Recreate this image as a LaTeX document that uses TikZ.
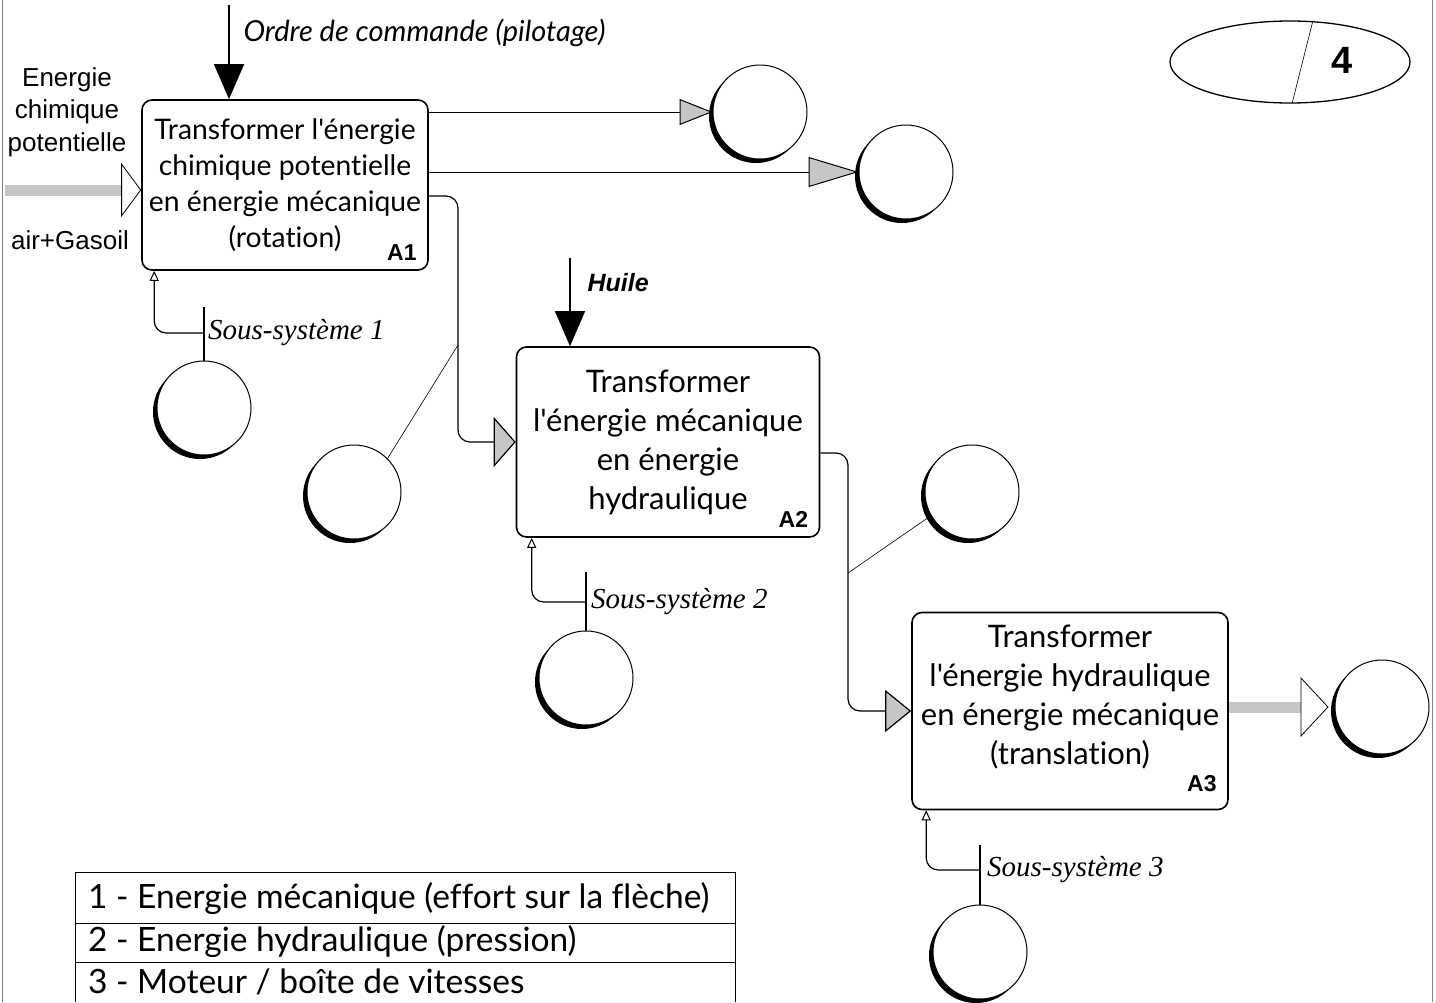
\documentclass[tikz,border=0pt]{standalone}
\usepackage{fontspec}
\setmainfont{Lato}[Ligatures={TeXOff,NoCommon}]
\newfontfamily\arialf{Liberation Sans}
\newfontfamily\romanf{Liberation Serif}
\usetikzlibrary{arrows.meta}
\usetikzlibrary{shapes.geometric}
\usetikzlibrary{shadows}

\begin{document}
\begin{tikzpicture}[x=1pt,y=-1pt]
  \tikzset{boite/.style = {draw, line width=1.6pt, rounded corners=10pt, inner sep=0pt, align=center}}
  \tikzset{rond/.style = {circle, draw, line width=1pt, fill=white, minimum size=94pt, inner sep=0pt,
      drop shadow={shadow xshift=-4pt, shadow yshift=-4pt, opacity=1, fill=black}}}
  \tikzset{lien/.style = {line width=1.2pt, rounded corners=12pt}}
  \tikzset{fin/.style = {line width=0.6pt}}
  \tikzset{sortie/.style = {line width=1pt}}
  \tikzset{ctrl/.style = {line width=1.2pt, -{Triangle[length=35pt,width=30pt]}}}
  \tikzset{barre/.style = {line width=11pt, draw=gray!45}}
  \tikzset{meca/.style = {line width=1.2pt, rounded corners=12pt, -{Triangle[open,length=10pt,width=9pt,line width=1pt]}}}
  \tikzset{num/.style = {font=\arialf\bfseries\fontsize{23}{26}\selectfont, inner sep=0pt}}
  \tikzset{ssys/.style = {font=\romanf\itshape\fontsize{29}{33}\selectfont, anchor=west, inner sep=0pt}}
  \tikzset{legende/.style = {font=\fontsize{33.5}{36}\selectfont, anchor=west, inner sep=0pt}}

  \useasboundingbox (0,0) rectangle (1436,1002);
  \draw[gray, line width=0.8pt] (2,0) -- (2,1002);
  \draw[gray, line width=0.8pt] (1432,0) -- (1432,1002);

  % les trois fonctions
  \node[boite, minimum width=286pt, minimum height=170pt, font=\fontsize{28.3}{36}\selectfont] (A1) at (285,185)
    {Transformer l'énergie\\chimique potentielle\\en énergie mécanique\\(rotation)};
  \node[boite, minimum width=303pt, minimum height=190pt, font=\fontsize{31}{39}\selectfont] (A2) at (668,442)
    {Transformer\\l'énergie mécanique\\en énergie\\hydraulique};
  \node[boite, minimum width=316pt, minimum height=197pt, font=\fontsize{31}{39}\selectfont] (A3) at (1070,711)
    {Transformer\\l'énergie hydraulique\\en énergie mécanique\\(translation)\\[-6pt]\mbox{}};
  \node[num, anchor=south east] (nA1) at ([xshift=-12pt,yshift=10pt]A1.south east) {A1};
  \node[num, anchor=south east] (nA2) at ([xshift=-12pt,yshift=10pt]A2.south east) {A2};
  \node[num, anchor=south east] (nA3) at ([xshift=-12pt,yshift=18pt]A3.south east) {A3};

  \foreach \nom/\x/\y in {C1/760/112, C2/906/172, C3/204/408, C4/354/492,
                          C5/586/678, C6/972/492, C7/1382/707, C8/980/952}
    \node[rond] (\nom) at (\x,\y) {};

  % entrees
  \coordinate (in) at (5,190);
  \coordinate (o) at (229,5);
  \coordinate (h) at (570,258);
  \node[font=\arialf\fontsize{26}{32.5}\selectfont, align=center] (ecp) at (67,112) {Energie\\chimique\\potentielle};
  \node[font=\arialf\fontsize{26}{30}\selectfont] (gas) at (70,240) {air+Gasoil};
  \node[font=\itshape\fontsize{29}{33}\selectfont, anchor=west] (ordre) at (240,33) {Ordre de commande (pilotage)};
  \node[font=\arialf\bfseries\itshape\fontsize{25}{30}\selectfont, anchor=west] (huile) at (584,283) {Huile};

  \draw[barre, -{Triangle[open,length=20pt,width=54pt,line width=0.8pt,color=black]}] (in) -- (in -| A1.west);
  \draw[ctrl] (o) -- (o |- A1.north);
  \draw[ctrl] (h) -- (h |- A2.north);

  % sorties
  \draw[sortie, -{Triangle[length=33pt,width=26pt,fill=gray!45]}] (A1.east |- C1.west) -- (C1.west);
  \draw[sortie, -{Triangle[length=50pt,width=30pt,fill=gray!45]}] (A1.east |- C2.west) -- (C2.west);
  \draw[barre, -{Triangle[open,length=28pt,width=60pt,line width=0.8pt,color=black]}] (A3.east |- C7.west) -- ([xshift=-6pt]C7.west);

  \coordinate (k1) at (458,345);
  \coordinate (k2) at (848,573);
  \draw[lien, -{Triangle[length=22pt,width=50pt,fill=gray!45]}] ([yshift=-11pt]A1.east) -| (k1) |- (A2.west);
  \draw[lien, -{Triangle[length=26pt,width=42pt,fill=gray!45]}] ([yshift=-11pt]A2.east) -| (k2) |- (A3.west);
  \draw[fin] (C4.north east) -- (k1);
  \draw[fin] (C6.210) -- (k2);

  % supports
  \coordinate (t1) at (204,307);
  \coordinate (m1) at (204,333);
  \coordinate (t2) at (586,572);
  \coordinate (m2) at (586,602);
  \coordinate (t3) at (980,845);
  \coordinate (m3) at (980,870);
  \draw[lien] (C3.north) -- (t1);
  \draw[lien] (C5.north) -- (t2);
  \draw[lien] (C8.north) -- (t3);
  \draw[meca] (m1) -| ([xshift=13pt]A1.south west);
  \draw[meca] (m2) -| ([xshift=16pt]A2.south west);
  \draw[meca] (m3) -| ([xshift=15pt]A3.south west);
  \node[ssys] (s1) at (208,333) {Sous-système 1};
  \node[ssys] (s2) at (591,602) {Sous-système 2};
  \node[ssys] (s3) at (987,870) {Sous-système 3};

  % cartouche
  \node[draw, ellipse, line width=1.3pt, minimum width=240pt, minimum height=82pt] (pg) at (1290,62) {};
  \draw[fin] ([xshift=23pt]pg.north) -- ([xshift=2pt]pg.south);
  \node[font=\arialf\bfseries\fontsize{38}{40}\selectfont] (p4) at (1342,60) {4};

  % legende
  \draw[line width=1pt] (75,1002) |- (735,872) -- (735,1002);
  \draw[line width=1pt] (75,923) -- (735,923);
  \draw[line width=1pt] (75,962) -- (735,962);
  \node[legende] (L1) at (88,899) {1 - Energie mécanique (effort sur la flèche)};
  \node[legende] (L2) at (88,942) {2 - Energie hydraulique (pression)};
  \node[legende] (L3) at (88,982) {3 - Moteur / boîte de vitesses};
\end{tikzpicture}
\end{document}
